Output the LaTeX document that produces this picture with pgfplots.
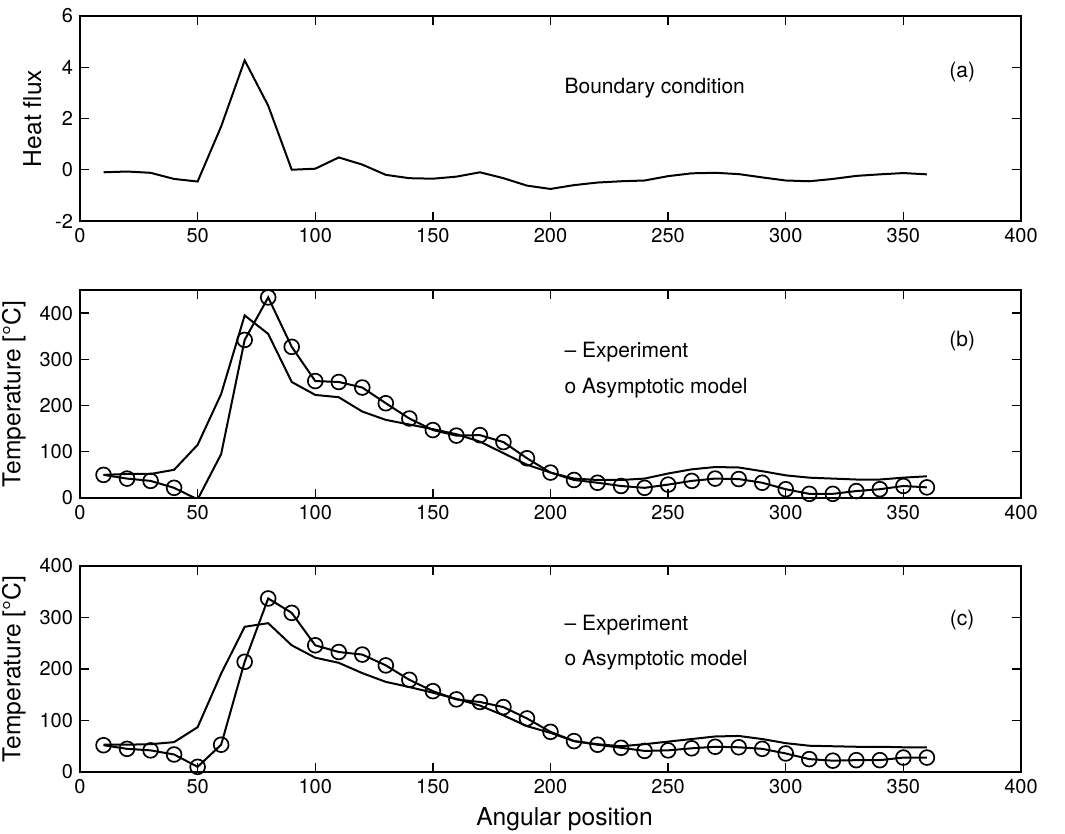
\documentclass[border=0pt]{standalone}
\usepackage{fontspec}
\setmainfont{TeX Gyre Heros}
\usepackage{pgfplots}
\pgfplotsset{compat=1.18}

\pgfplotsset{
  panel/.style={
    scale only axis, width=470.5pt,
    xmin=0, xmax=400, xtick={0,50,...,400},
    tick align=inside, tick pos=both, major tick length=4.5pt,
    axis line style={line width=0.8pt},
    every tick/.style={black, line width=0.7pt},
    tick label style={font=\fontsize{10}{12}\selectfont},
    label style={font=\fontsize{12.3}{14}\selectfont},
    /pgf/number format/assume math mode=true,
  },
  expline/.style={black, line width=1pt, no marks},
  modline/.style={black, line width=1pt, mark=o, mark size=3.7pt,
    mark options={line width=0.85pt}},
}
\tikzset{note/.style={font=\fontsize{10.5}{12}\selectfont}}

\begin{document}
\begin{tikzpicture}
\useasboundingbox (-40pt,8pt) rectangle (492.5pt,-409pt);

% (a) boundary condition
\begin{axis}[panel, at={(0pt,0pt)}, anchor=north west, height=102.5pt,
  ymin=-2, ymax=6, ytick={-2,0,...,6}, ylabel={Heat flux}]
\addplot[expline] coordinates {
  (10,-0.1) (20,-0.07) (30,-0.12) (40,-0.36) (50,-0.46) (60,1.69) (70,4.27)
  (80,2.5) (90,0.0) (100,0.04) (110,0.48) (120,0.2) (130,-0.2) (140,-0.33)
  (150,-0.35) (160,-0.27) (170,-0.1) (180,-0.33) (190,-0.62) (200,-0.75)
  (210,-0.6) (220,-0.5) (230,-0.45) (240,-0.42) (250,-0.25) (260,-0.14)
  (270,-0.12) (280,-0.17) (290,-0.3) (300,-0.42) (310,-0.45) (320,-0.36)
  (330,-0.24) (340,-0.18) (350,-0.13) (360,-0.18)
};
\node[note, anchor=west] at (axis cs:203,3.2) {Boundary condition};
\node[note] at (axis cs:375,3.8) {(a)};
\end{axis}

% (b)
\begin{axis}[panel, at={(0pt,-137pt)}, anchor=north west, height=104pt,
  ymin=0, ymax=450, ytick={0,100,...,400}, ylabel={Temperature [°C]}]
\addplot[expline] coordinates {
  (10,50) (20,52) (30,52) (40,61) (50,115) (60,225) (70,395) (80,355)
  (90,251) (100,223) (110,218) (120,187) (130,169) (140,159) (150,149)
  (160,138) (170,122) (180,97) (190,72) (200,55) (210,42) (220,39) (230,39)
  (240,42) (250,53) (260,62) (270,67) (280,66) (290,58) (300,49) (310,44)
  (320,42) (330,40) (340,40) (350,44) (360,47)
};
\addplot[modline, mark indices={1,2,3,4,6,7,8,9,10,11,12,13,14,15,16,17,18,
  19,20,21,22,23,24,25,26,27,28,29,30,31,32,33,34,35,36}] coordinates {
  (10,50) (20,42) (30,37) (40,22) (50,-3) (60,95) (70,342) (80,434)
  (90,327) (100,253) (110,251) (120,239) (130,205) (140,172) (150,147)
  (160,135) (170,136) (180,121) (190,86) (200,55) (210,39) (220,33) (230,26)
  (240,22) (250,29) (260,37) (270,42) (280,41) (290,33) (300,19) (310,9)
  (320,9) (330,15) (340,19) (350,26) (360,23)
};
\node[note, anchor=west] at (axis cs:203,315) {\textendash\ Experiment};
\node[note, anchor=west] at (axis cs:203,237) {o Asymptotic model};
\node[note] at (axis cs:375,340) {(b)};
\end{axis}

% (c)
\begin{axis}[panel, at={(0pt,-275pt)}, anchor=north west, height=103pt,
  ymin=0, ymax=400, ytick={0,100,...,400}, ylabel={Temperature [°C]},
  xlabel={Angular position}, xlabel style={xshift=7pt}]
\addplot[expline] coordinates {
  (10,53) (20,53) (30,54) (40,58) (50,87) (60,191) (70,282) (80,289)
  (90,246) (100,222) (110,212) (120,192) (130,175) (140,165) (150,154)
  (160,142) (170,129) (180,110) (190,89) (200,76) (210,60) (220,54) (230,50)
  (240,54) (250,59) (260,64) (270,69) (280,70) (290,64) (300,56) (310,51)
  (320,50) (330,49) (340,49) (350,48) (360,48)
};
\addplot[modline] coordinates {
  (10,52) (20,45) (30,42) (40,34) (50,10) (60,53) (70,214) (80,337)
  (90,309) (100,246) (110,233) (120,228) (130,207) (140,179) (150,157)
  (160,141) (170,136) (180,126) (190,104) (200,78) (210,60) (220,53) (230,47)
  (240,41) (250,42) (260,46) (270,49) (280,48) (290,45) (300,36) (310,25)
  (320,22) (330,23) (340,23) (350,28) (360,28)
};
\node[note, anchor=west] at (axis cs:203,285) {\textendash\ Experiment};
\node[note, anchor=west] at (axis cs:203,217) {o Asymptotic model};
\node[note] at (axis cs:375,295) {(c)};
\end{axis}
\end{tikzpicture}
\end{document}
